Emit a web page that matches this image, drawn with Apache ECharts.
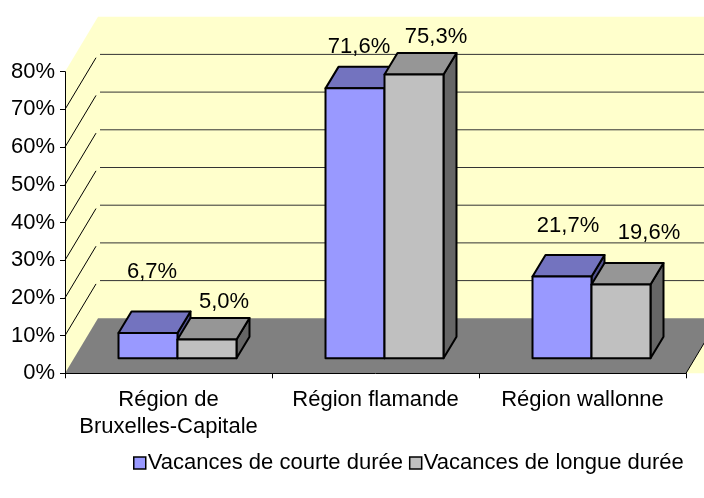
<!DOCTYPE html>
<html><head><meta charset="utf-8">
<script src="https://cdn.jsdelivr.net/npm/echarts@6/dist/echarts.min.js"></script>
<style>html,body{margin:0;padding:0;background:#fff}#c{width:704px;height:498px}</style>
</head><body><div id="c"></div>
<script>
// ---- data ----
const categories = ['Région de\nBruxelles-Capitale', 'Région flamande', 'Région wallonne'];
const seriesNames = ['Vacances de courte durée', 'Vacances de longue durée'];
const shortStay = [6.7, 71.6, 21.7];
const longStay = [5.0, 75.3, 19.6];
const yTicks = [0, 10, 20, 30, 40, 50, 60, 70, 80];

// ---- style / layout (label nudges, px, relative to bar top) ----
const FONT = '"Liberation Sans", Arial, sans-serif';
const FS = 22;
const WALL = {dx: 33, dy: -55};
const FRONT = {dx: 9, dy: -15};
const DEPTH = {dx: 13, dy: -21.5};
const BAR_FRAC = 0.285;
const LABEL_NUDGE = [
  {dx: [4, 4, 6], lift: [61, 41, 51]},
  {dx: [17, 22, 28], lift: [38, 37, 51]}
];
const fmt = v => v.toFixed(1).replace('.', ',') + '%';

function wallRender(params, api) {
  if (params.dataIndex !== 0) return;
  const cs = params.coordSys;
  const x0 = cs.x, y0 = cs.y + cs.height, xr = cs.x + cs.width;
  const top = api.coord([0, yTicks[yTicks.length - 1]])[1];
  const W = 760;
  const ch = [];
  ch.push({type: 'polygon', shape: {points: [[x0, top], [x0 + WALL.dx, top + WALL.dy], [W, top + WALL.dy], [W, y0], [x0, y0]]},
    style: {fill: '#FFFFCC'}});
  yTicks.forEach((v, i) => {
    if (i === 0 || i === yTicks.length - 1) return;
    const y = api.coord([0, v])[1];
    ch.push({type: 'polyline', shape: {points: [[x0, y], [x0 + WALL.dx - 2, y + WALL.dy * (WALL.dx - 2) / WALL.dx]]}, style: {stroke: '#000', lineWidth: 1, fill: null}});
    ch.push({type: 'line', shape: {x1: x0 + WALL.dx + 2, y1: y + WALL.dy, x2: W, y2: y + WALL.dy}, style: {stroke: '#333', lineWidth: 1}});
  });
  ch.push({type: 'polygon', shape: {points: [[x0, y0], [x0 + WALL.dx, y0 + WALL.dy], [xr + WALL.dx, y0 + WALL.dy], [xr, y0]]},
    style: {fill: '#808080'}});
  ch.push({type: 'line', shape: {x1: xr, y1: y0, x2: xr + WALL.dx, y2: y0 + WALL.dy}, style: {stroke: '#000', lineWidth: 1}});
  return {type: 'group', children: ch};
}

function barRender(sIdx) {
  const colors = sIdx === 0 ? ['#9999FF', '#7373BF', '#52528F'] : ['#C0C0C0', '#969696', '#666666'];
  const nudge = LABEL_NUDGE[sIdx];
  return function (params, api) {
    const ci = api.value(0), v = api.value(1);
    const base = api.coord([ci, 0]);
    const tp = api.coord([ci, v]);
    const bw = api.size([1, 0])[0] * BAR_FRAC;
    const cx = base[0] + FRONT.dx;
    const xl = sIdx === 0 ? cx - bw : cx;
    const xr = xl + bw;
    const yb = base[1] + FRONT.dy, yt = tp[1] + FRONT.dy;
    const dx = DEPTH.dx, dy = DEPTH.dy;
    const st = f => ({fill: f, stroke: '#000', lineWidth: 2, lineJoin: 'round'});
    return {type: 'group', children: [
      {type: 'polygon', shape: {points: [[xr, yb], [xr + dx, yb + dy], [xr + dx, yt + dy], [xr, yt]]}, style: st(colors[2])},
      {type: 'polygon', shape: {points: [[xl, yt], [xl + dx, yt + dy], [xr + dx, yt + dy], [xr, yt]]}, style: st(colors[1])},
      {type: 'rect', shape: {x: xl, y: yt, width: bw, height: yb - yt}, style: st(colors[0])},
      {type: 'text', style: {text: fmt(v), x: (xl + xr) / 2 + nudge.dx[ci], y: yt - nudge.lift[ci], align: 'center', verticalAlign: 'middle',
        font: FS + 'px ' + FONT, fill: '#000'}}
    ]};
  };
}

const chart = echarts.init(document.getElementById('c'), null, {renderer: 'canvas'});
chart.setOption({
  animation: false,
  backgroundColor: '#fff',
  grid: {left: 65, right: 18, top: 71.7, bottom: 124.7, containLabel: false},
  xAxis: {
    type: 'category', data: categories,
    axisLine: {show: true, lineStyle: {color: '#000', width: 1}},
    axisTick: {show: true, length: 5, lineStyle: {color: '#000'}},
    axisLabel: {color: '#000', fontFamily: FONT, fontSize: FS, lineHeight: 27, margin: 13, interval: 0},
    splitLine: {show: false}
  },
  yAxis: {
    type: 'value', min: yTicks[0], max: yTicks[yTicks.length - 1], interval: 10,
    axisLine: {show: true, lineStyle: {color: '#000', width: 1}},
    axisTick: {show: true, length: 5, lineStyle: {color: '#000'}},
    axisLabel: {color: '#000', fontFamily: FONT, fontSize: FS, margin: 10, formatter: '{value}%'},
    splitLine: {show: false}
  },
  legend: {
    left: 133, top: 452, padding: 0, icon: 'rect', itemWidth: 12, itemHeight: 12, itemGap: 6,
    itemStyle: {borderColor: '#000', borderWidth: 1.5},
    textStyle: {color: '#000', fontFamily: FONT, fontSize: FS, padding: [0, 0, 0, -3]},
    data: seriesNames
  },
  series: [
    {type: 'custom', name: 'wall', z: -1, silent: true, clip: false, renderItem: wallRender, data: [[0, 0]]},
    {type: 'custom', name: seriesNames[0], z: 2, clip: false, itemStyle: {color: '#9999FF'},
      renderItem: barRender(0), data: shortStay.map((v, i) => [i, v])},
    {type: 'custom', name: seriesNames[1], z: 3, clip: false, itemStyle: {color: '#C0C0C0'},
      renderItem: barRender(1), data: longStay.map((v, i) => [i, v])}
  ]
});
</script></body></html>
